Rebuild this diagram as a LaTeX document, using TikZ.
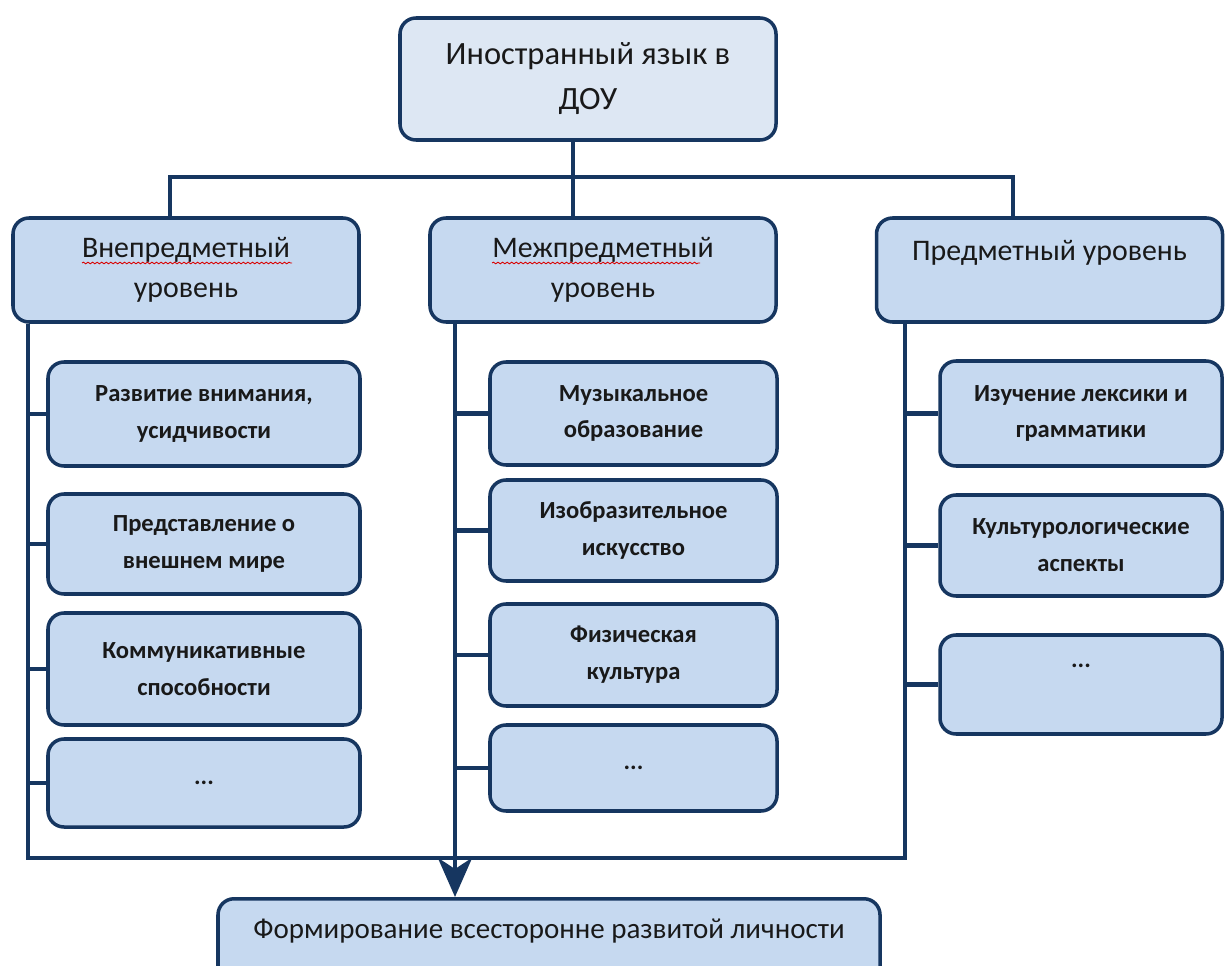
\documentclass[tikz,border=0pt]{standalone}
\usepackage{fontspec}
\setmainfont{Carlito}
\usepackage{xcolor}
\usetikzlibrary{arrows.meta, decorations.pathmorphing}
\definecolor{navy}{RGB}{22,54,96}
\definecolor{boxfill}{RGB}{198,217,240}
\definecolor{topfill}{RGB}{221,231,243}
\definecolor{ink}{RGB}{25,25,25}

\begin{document}
\begin{tikzpicture}[
    box/.style={draw=navy, line width=2pt, fill=boxfill, rounded corners=0.32cm,
        align=center, text=ink, inner sep=0pt},
    topbox/.style={box, fill=topfill, minimum width=7.52cm, minimum height=2.44cm,
        font=\fontsize{18.5}{25.6}\selectfont},
    lvlbox/.style={box, minimum width=6.92cm, minimum height=2.08cm,
        font=\fontsize{17}{22.8}\selectfont},
    kidbox/.style={box, font=\fontsize{14}{21}\selectfont\bfseries},
    link/.style={draw=navy, line width=2.8pt},
    spell/.style={draw=red!85!black, line width=0.5pt, decorate,
        decoration={snake, amplitude=0.45pt, segment length=2.6pt}}
    ]
        \useasboundingbox (0, 0) rectangle (24.54, -19.32);

        \draw (11.76, -1.58) node[topbox] (top) {Иностранный язык в\\ДОУ};

        \draw (3.72, -5.4) node[lvlbox] (lvlA) {Внепредметный\\уровень};
        \draw (12.06, -5.4) node[lvlbox] (lvlB) {Межпредметный\\уровень};
        \draw (20.99, -5.4) node[lvlbox] (lvlC) {Предметный уровень\\ \mbox{}};

        \draw [spell] (1.64, -5.26) -- (5.84, -5.26);
        \draw [spell] (9.84, -5.26) -- (14.0, -5.26);

        \draw (4.08, -8.28) node[kidbox, minimum width=6.24cm, minimum height=2.08cm] (kidA1) {Развитие внимания,\\усидчивости};
        \draw (4.08, -10.88) node[kidbox, minimum width=6.24cm, minimum height=2.0cm] (kidA2) {Представление о\\внешнем мире};
        \draw (4.08, -13.38) node[kidbox, minimum width=6.24cm, minimum height=2.24cm] (kidA3) {Коммуникативные\\способности};
        \draw (4.08, -15.66) node[kidbox, minimum width=6.24cm, minimum height=1.76cm] (kidA4) {...};

        \draw (12.67, -8.27) node[kidbox, minimum width=5.74cm, minimum height=2.06cm] (kidB1) {Музыкальное\\образование};
        \draw (12.67, -10.61) node[kidbox, minimum width=5.74cm, minimum height=2.02cm] (kidB2) {Изобразительное\\искусство};
        \draw (12.67, -13.1) node[kidbox, minimum width=5.74cm, minimum height=2.04cm] (kidB3) {Физическая\\культура};
        \draw (12.67, -15.36) node[kidbox, minimum width=5.74cm, minimum height=1.72cm] (kidB4) {...};

        \draw (21.62, -8.27) node[kidbox, minimum width=5.64cm, minimum height=2.1cm] (kidC1) {Изучение лексики и\\грамматики};
        \draw (21.62, -10.91) node[kidbox, minimum width=5.64cm, minimum height=2.02cm] (kidC2) {Культурологические\\аспекты};
        \draw (21.62, -13.69) node[kidbox, minimum width=5.64cm, minimum height=1.98cm] (kidC3) {...\\ \mbox{}};

        \draw (10.98, -17.94) node[box, anchor=north, minimum width=13.24cm,
            text height=0.55cm, text depth=1.4cm, inner ysep=0.25cm,
            font=\fontsize{16.5}{20}\selectfont] (goal) {Формирование всесторонне развитой личности};

        \coordinate (trunk) at (11.46, -3.54);
        \coordinate (dropA) at (3.4, -3.54);
        \coordinate (dropC) at (20.26, -3.54);
        \coordinate (busA) at (0.56, -17.16);
        \coordinate (busB) at (9.1, -17.16);
        \coordinate (busC) at (18.1, -17.16);

        \draw [link] (top.south -| trunk) -- (lvlB.north -| trunk);
        \draw [link] (lvlA.north -| dropA) -- (dropA) -- (dropC) -- (lvlC.north -| dropC);

        \draw [link] (lvlA.south -| busA) -- (busA) -- (busC) -- (lvlC.south -| busC);
        \draw [link, -{Stealth[length=0.78cm, width=0.68cm, inset=0.22cm]}]
            (lvlB.south -| busB) -- (goal.north -| busB);

        \foreach \k/\b in {kidA1/busA, kidA2/busA, kidA3/busA, kidA4/busA,
            kidB1/busB, kidB2/busB, kidB3/busB, kidB4/busB,
            kidC1/busC, kidC2/busC, kidC3/busC}
        \draw [link] (\k.west -| \b) -- (\k.west);

    \end{tikzpicture}
\end{document}
